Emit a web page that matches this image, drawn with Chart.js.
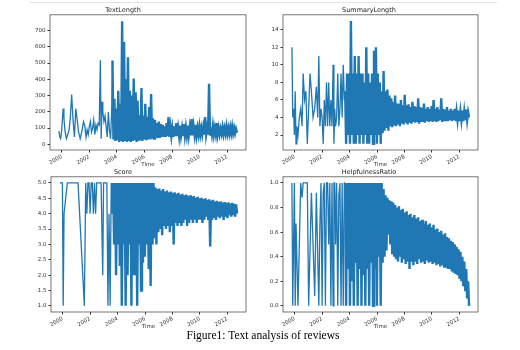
<!DOCTYPE html>
<html>
<head>
<meta charset="utf-8">
<script src="https://cdn.jsdelivr.net/npm/chart.js@4.4.1/dist/chart.umd.min.js"></script>
<style>
  html, body { margin: 0; padding: 0; background: #fff; }
  body { width: 520px; height: 350px; position: relative; overflow: hidden; }
  .topline { position: absolute; left: 30px; top: 2px; width: 467px; height: 1px; background: #e2e2e2; }
  .panel { position: absolute; width: 260px; height: 168px; }
  .caption { position: absolute; left: 0; width: 526px; top: 329px; text-align: center;
             font-family: "Liberation Serif", "Times New Roman", serif; font-size: 11.5px; color: #000; }
</style>
</head>
<body>
<div class="topline"></div>
<div class="panel" style="left:0;top:0"><canvas id="textChart"></canvas></div>
<div class="panel" style="left:260px;top:0"><canvas id="summaryChart"></canvas></div>
<div class="panel" style="left:0;top:162px"><canvas id="scoreChart"></canvas></div>
<div class="panel" style="left:260px;top:162px"><canvas id="helpChart"></canvas></div>
<div class="caption">Figure1: Text analysis of reviews</div>
<script>
// review time (decimal year), shared by all four panels
const time = [
  1999.80, 1999.86, 1999.92, 1999.98, 2000.04, 2000.10, 2000.16, 2000.24, 2000.34, 2000.44,
  2000.54, 2000.62, 2000.72, 2000.82, 2000.92, 2001.02, 2001.12, 2001.22, 2001.34, 2001.46,
  2001.58, 2001.68, 2001.76, 2001.84, 2001.92, 2002.00, 2002.08, 2002.16, 2002.24, 2002.32,
  2002.40, 2002.48, 2002.56, 2002.64, 2002.72, 2002.80, 2002.86, 2002.92, 2002.98, 2003.06,
  2003.14, 2003.22, 2003.30, 2003.38, 2003.46, 2003.54, 2003.62,
  2003.68, 2003.75, 2003.82, 2003.89, 2003.96, 2004.03, 2004.10, 2004.17, 2004.24, 2004.31,
  2004.38, 2004.45, 2004.52, 2004.59, 2004.66, 2004.73, 2004.80, 2004.87, 2004.94, 2005.01,
  2005.08, 2005.15, 2005.22, 2005.29, 2005.36, 2005.43, 2005.50, 2005.57, 2005.64, 2005.71,
  2005.78, 2005.85, 2005.92, 2005.99, 2006.06, 2006.13, 2006.20, 2006.27, 2006.34, 2006.41,
  2006.48, 2006.55, 2006.62, 2006.69, 2006.76, 2006.83, 2006.90, 2006.97, 2007.04, 2007.11,
  2007.18, 2007.25, 2007.32, 2007.39, 2007.46, 2007.53, 2007.60, 2007.67, 2007.74, 2007.81,
  2007.88, 2007.95, 2008.02, 2008.09, 2008.16, 2008.23, 2008.30, 2008.37, 2008.44, 2008.51,
  2008.58, 2008.65, 2008.72, 2008.79, 2008.86, 2008.93, 2009.00, 2009.07, 2009.14, 2009.21,
  2009.28, 2009.35, 2009.42, 2009.49, 2009.56, 2009.63, 2009.70, 2009.77, 2009.84, 2009.91,
  2009.98, 2010.05, 2010.12, 2010.19, 2010.26, 2010.33, 2010.40, 2010.47, 2010.54, 2010.61,
  2010.68, 2010.75, 2010.82, 2010.89, 2010.96, 2011.03, 2011.10, 2011.17, 2011.24, 2011.31,
  2011.38, 2011.45, 2011.52, 2011.59, 2011.66, 2011.73, 2011.80, 2011.87, 2011.94, 2012.01,
  2012.08, 2012.15, 2012.22, 2012.29, 2012.36, 2012.43, 2012.50, 2012.57, 2012.64, 2012.71
];
// from here on reviews come in daily, the line turns into a solid band
const denseFrom = 2003.66;

const textLength = [
  81, 45, 35, 70, 140, 220, 160, 80, 35, 60,
  92, 160, 306, 150, 45, 220, 150, 76, 35, 80,
  138, 110, 45, 90, 60, 110, 140, 75, 100, 150,
  60, 120, 90, 130, 120, 518, 35, 262, 200, 140,
  175, 110, 45, 198, 90, 35, 200,
  515, 30, 280, 20, 220, 25, 330, 15, 250, 20,
  757, 15, 630, 20, 400, 15, 535, 20, 330, 15,
  300, 20, 405, 25, 320, 15, 270, 20, 180, 25,
  347, 20, 175, 30, 250, 25, 170, 30, 230, 30,
  310, 35, 160, 35, 150, 40, 130, 40, 140, 40,
  125, 45, 120, 45, 110, 45, 130, 50, 168, 45,
  105, 50, 100, 45, 110, 50, 130, 50, 100, 50,
  115, 55, 100, 50, 125, 55, 105, 55, 115, 55,
  105, 55, 155, 55, 110, 60, 120, 55, 100, 60,
  110, 60, 100, 60, 105, 60, 168, 60, 100, 60,
  372, 60, 105, 62, 115, 60, 100, 62, 130, 62,
  100, 62, 95, 65, 105, 62, 98, 65, 110, 65,
  100, 65, 105, 68, 110, 68, 100, 68, 95, 72
];

const summaryLength = [
  12, 4, 5, 2, 7, 1, 3, 2, 4, 5,
  3, 9, 6, 7, 1, 5, 9, 7, 4, 5,
  7.5, 4, 11, 3, 5, 4, 1, 6, 3, 8,
  3, 8, 3, 6, 3, 10, 1, 5, 3, 4,
  9, 3, 5, 9, 4, 10, 6,
  7, 1, 9, 2, 9, 1, 15, 2, 9, 1,
  11, 1, 9, 2, 11, 1, 9, 2, 9, 1,
  8, 2, 12, 1, 9, 1, 8, 2, 9, 1,
  11.6, 2, 12, 1, 9, 2, 8, 1, 7, 2.2,
  9.3, 2.5, 7, 2.8, 7.2, 2.5, 6.5, 3, 6.2, 2.9,
  5.8, 3.1, 6.5, 3, 5.6, 3.2, 5.5, 3, 6, 3.3,
  5.4, 3.2, 6.6, 3.4, 5.4, 3.2, 5.5, 3.4, 5.2, 3.3,
  5.8, 3.5, 5.3, 3.4, 5.2, 3.5, 6.2, 3.3, 5.2, 3.5,
  5.1, 3.5, 5.6, 3.4, 5, 3.6, 5.2, 3.5, 5, 3.6,
  5.3, 3.5, 6, 3.6, 5, 3.5, 5.2, 3.6, 4.9, 3.7,
  6.2, 3.5, 5, 3.6, 4.9, 3.7, 5.2, 3.6, 4.8, 3.7,
  5, 3.6, 4.8, 3.7, 5, 3.6, 4.7, 3.7, 4.8, 3.6,
  4.7, 3.7, 4.8, 3.6, 4.7, 3.7, 4.9, 3.7, 4.6, 4
];

const score = [
  5, 5, 5, 5, 1, 4, null, null, 5, 5,
  5, 5, 5, 5, 5, 5, 5, null, null, null,
  1, 5, 4, 5, 5, 4, 5, 5, 4, 5,
  4, 5, 5, 5, 5, 5, 5, 2, 5, 5,
  5, 5, 1, 4, 1, 5, 4,
  5, 3, 5, 2, 5, 3, 5, 2.3, 5, 1,
  5, 3, 5, 1, 5, 2, 5, 3, 5, 1,
  5, 2, 5, 2, 5, 1, 5, 3, 5, 1.5,
  5, 2.4, 5, 2.6, 5, 3, 5, 2.2, 5, 1.65,
  5, 3, 5, 3.2, 4.85, 3, 4.8, 3.4, 4.82, 3.5,
  4.75, 3.3, 4.8, 3.6, 4.72, 3.5, 4.75, 3.6, 4.7, 3.4,
  4.72, 3.6, 4.68, 3, 4.7, 3.7, 4.65, 3.6, 4.68, 3.7,
  4.62, 3.6, 4.65, 3.7, 4.6, 3.8, 4.62, 3.6, 4.58, 3.7,
  4.6, 3.8, 4.55, 3.7, 4.57, 3.8, 4.52, 3.7, 4.55, 3.8,
  4.5, 3.8, 4.52, 3.7, 4.48, 3.8, 4.5, 3.9, 4.45, 3.8,
  4.47, 2.93, 4.43, 3.8, 4.45, 3.9, 4.4, 3.8, 4.42, 3.9,
  4.38, 3.85, 4.4, 3.9, 4.36, 3.8, 4.38, 3.9, 4.35, 3.85,
  4.37, 3.95, 4.33, 3.9, 4.35, 3.95, 4.32, 3.9, 4.3, 4
];

const helpfulness = [
  1, 0, 0.5, 1, 0, 0.67, null, 0, null, 1,
  0.88, 1, 1, 1, 1, 0, null, 0.92, null, 0.08,
  0.92, null, 0, 0.67, 1, 0, 0.92, 1, 0, 1,
  1, 0.5, 1, 0, 1, 0, 1, 1, 0.5, 1,
  0, 0.9, 1, 0, 1, 0, 1,
  1, 0, 1, 0.3, 1, 0, 1, 0.2, 1, 0,
  1, 0.35, 1, 0, 1, 0.3, 1, 0, 1, 0.25,
  1, 0, 1, 0.3, 1, 0, 1, 0.35, 1, 0,
  1, 0.3, 1, 0, 1, 0.4, 1, 0, 1, 0.35,
  0.95, 0.4, 0.9, 0.45, 0.88, 0.58, 0.86, 0.5, 0.85, 0.42,
  0.84, 0.4, 0.82, 0.38, 0.8, 0.36, 0.81, 0.4, 0.78, 0.35,
  0.79, 0.38, 0.76, 0.34, 0.77, 0.36, 0.74, 0.3, 0.75, 0.36,
  0.72, 0.33, 0.74, 0.36, 0.71, 0.34, 0.72, 0.38, 0.69, 0.35,
  0.7, 0.36, 0.67, 0.34, 0.69, 0.37, 0.66, 0.35, 0.67, 0.36,
  0.64, 0.34, 0.66, 0.35, 0.62, 0.33, 0.63, 0.34, 0.6, 0.32,
  0.61, 0.33, 0.58, 0.31, 0.59, 0.32, 0.56, 0.3, 0.55, 0.3,
  0.53, 0.28, 0.52, 0.27, 0.5, 0.26, 0.48, 0.25, 0.46, 0.22,
  0.44, 0.2, 0.4, 0.16, 0.36, 0.12, 0.3, 0.06, 0.2, 0
];

// tick labels
const yearTicks = [2000, 2002, 2004, 2006, 2008, 2010, 2012];
const textTicks = [0, 100, 200, 300, 400, 500, 600, 700];
const summaryTicks = [2, 4, 6, 8, 10, 12, 14];
const scoreTicks = [1.0, 1.5, 2.0, 2.5, 3.0, 3.5, 4.0, 4.5, 5.0];
const helpTicks = [0.0, 0.2, 0.4, 0.6, 0.8, 1.0];

const ink = "#333";
const tickFont = { family: "DejaVu Sans", size: 5.5 };

// matplotlib style box around the plot area
const frame = {
  id: "frame",
  afterDraw(chart) {
    const a = chart.chartArea;
    const ctx = chart.ctx;
    ctx.save();
    ctx.strokeStyle = "#555";
    ctx.lineWidth = 0.8;
    ctx.strokeRect(a.left, a.top, a.right - a.left, a.bottom - a.top);
    ctx.restore();
  },
};

const makePanel = (id, title, values, yMin, yMax, yTicks, digits, leftW, rightPad) => {
  return new Chart(id, {
    type: "line",
    data: {
      datasets: [
        {
          data: time.map((t, i) => ({ x: t, y: values[i] })),
          borderColor: "#1f77b4",
          borderWidth: 1.3,
          pointRadius: 0,
          tension: 0,
          spanGaps: true,
          segment: {
            // thousands of daily points overlap there, so the band is solid
            borderWidth: (c) => (c.p0.parsed.x >= denseFrom ? 2.4 : undefined),
          },
        },
      ],
    },
    options: {
      animation: false,
      responsive: true,
      maintainAspectRatio: false,
      layout: { padding: { left: 0, right: rightPad, top: 0, bottom: 0 } },
      plugins: {
        legend: { display: false },
        tooltip: { enabled: false },
        title: {
          display: true,
          text: title,
          color: "#222",
          font: { family: "DejaVu Sans", size: 6.5, weight: "normal" },
          padding: { top: 6, bottom: 1 },
        },
      },
      scales: {
        x: {
          type: "linear",
          min: 1999.15,
          max: 2013.36,
          afterFit: (s) => { s.height = 18; },
          afterBuildTicks: (s) => { s.ticks = yearTicks.map((v) => ({ value: v })); },
          ticks: {
            autoSkip: false,
            minRotation: 30,
            maxRotation: 30,
            padding: 1,
            color: ink,
            font: tickFont,
            callback: (v) => String(v),
          },
          grid: { drawOnChartArea: false, tickLength: 2.5, color: ink },
          border: { display: false },
          title: { display: true, text: "Time", padding: 0, color: ink, font: { family: "DejaVu Sans", size: 5.5 } },
        },
        y: {
          min: yMin,
          max: yMax,
          afterFit: (s) => { s.width = leftW; },
          afterBuildTicks: (s) => { s.ticks = yTicks.map((v) => ({ value: v })); },
          ticks: {
            padding: 2,
            color: ink,
            font: tickFont,
            callback: (v) => v.toFixed(digits),
          },
          grid: { drawOnChartArea: false, tickLength: 2.5, color: ink },
          border: { display: false },
        },
      },
    },
    plugins: [frame],
  });
};

makePanel("textChart", "TextLength", textLength, -35, 797, textTicks, 0, 50, 14);
makePanel("summaryChart", "SummaryLength", summaryLength, 0.3, 15.7, summaryTicks, 0, 23, 42);
makePanel("scoreChart", "Score", score, 0.8, 5.2, scoreTicks, 1, 51, 14);
makePanel("helpChart", "HelpfulnessRatio", helpfulness, -0.05, 1.05, helpTicks, 1, 23, 42);
</script>
</body>
</html>
